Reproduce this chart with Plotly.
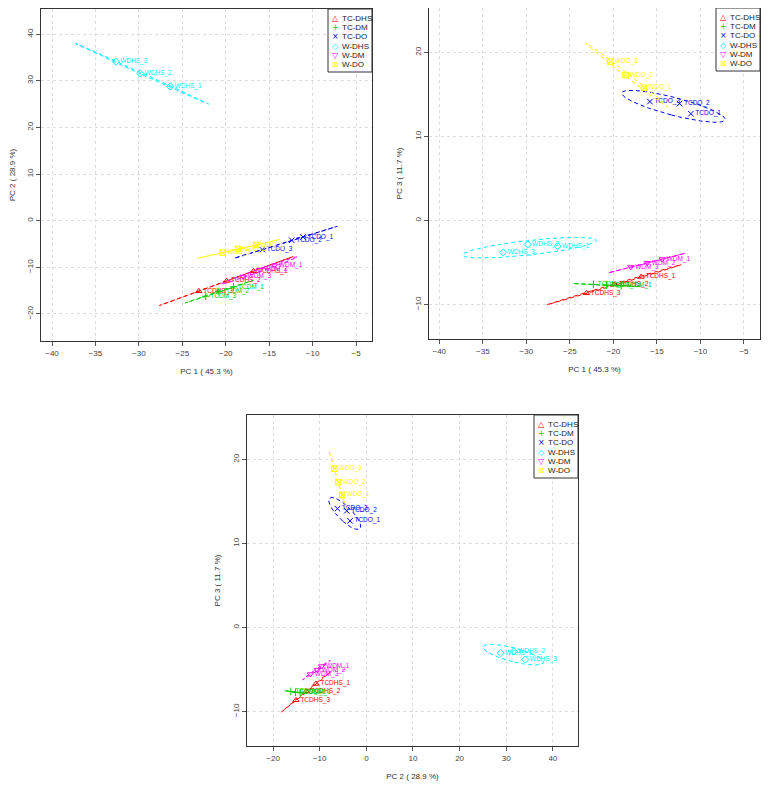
import numpy as np
import plotly.graph_objects as go

# ---------------- data (PCA scores) ----------------
GROUPS = ["TC-DHS", "TC-DM", "TC-DO", "W-DHS", "W-DM", "W-DO"]

TCDHS_LABELS = ["TCDHS_1", "TCDHS_2", "TCDHS_3"]
TCDHS_PC1 = [-16.8, -19.9, -23.1]
TCDHS_PC2 = [-10.8, -12.9, -15.1]
TCDHS_PC3 = [-6.7, -7.6, -8.65]

TCDM_LABELS = ["TCDM_1", "TCDM_2", "TCDM_3"]
TCDM_PC1 = [-19.1, -20.8, -22.3]
TCDM_PC2 = [-14.2, -15.2, -16.2]
TCDM_PC3 = [-7.75, -7.7, -7.6]

TCDO_LABELS = ["TCDO_1", "TCDO_2", "TCDO_3"]
TCDO_PC1 = [-11.1, -12.4, -15.8]
TCDO_PC2 = [-3.5, -4.2, -6.2]
TCDO_PC3 = [12.7, 13.9, 14.15]

WDHS_LABELS = ["WDHS_1", "WDHS_2", "WDHS_3"]
WDHS_PC1 = [-26.4, -29.85, -32.65]
WDHS_PC2 = [28.8, 31.6, 34.1]
WDHS_PC3 = [-3.05, -2.85, -3.8]

WDM_LABELS = ["WDM_1", "WDM_2", "WDM_3"]
WDM_PC1 = [-14.4, -16.1, -18.0]
WDM_PC2 = [-9.6, -10.5, -12.0]
WDM_PC3 = [-4.6, -5.05, -5.55]

WDO_LABELS = ["WDO_1", "WDO_2", "WDO_3"]
WDO_PC1 = [-16.5, -18.6, -20.35]
WDO_PC2 = [-5.2, -6.05, -6.85]
WDO_PC3 = [15.8, 17.3, 18.9]

PC_TITLES = ["PC 1 ( 45.3 %)", "PC 2 ( 28.9 %)", "PC 3 ( 11.7 %)"]

# ---------------- styles ----------------
COLORS = ["#FF0000", "#00CD00", "#0000FF", "#00FFFF", "#FF00FF", "#FFFF00"]
SYMBOLS = ["triangle-up-open", "cross-thin-open", "x-thin-open",
           "diamond-open", "triangle-down-open", "square-x-open"]
LEG_GLYPHS = ["\u25b3", "+", "\u00d7", "\u25c7", "\u25bd", "\u22a0"]
FONT = "Liberation Sans, Arial, Helvetica, sans-serif"

group_data = [
    (TCDHS_LABELS, TCDHS_PC1, TCDHS_PC2, TCDHS_PC3),
    (TCDM_LABELS, TCDM_PC1, TCDM_PC2, TCDM_PC3),
    (TCDO_LABELS, TCDO_PC1, TCDO_PC2, TCDO_PC3),
    (WDHS_LABELS, WDHS_PC1, WDHS_PC2, WDHS_PC3),
    (WDM_LABELS, WDM_PC1, WDM_PC2, WDM_PC3),
    (WDO_LABELS, WDO_PC1, WDO_PC2, WDO_PC3),
]


def ellipse(x, y, n=160, chi2=5.991):
    X = np.column_stack([x, y]).astype(float)
    m = X.mean(axis=0)
    C = np.cov(X.T)
    vals, vecs = np.linalg.eigh(C)
    vals = np.clip(vals, 0, None)
    r = np.sqrt(chi2 * vals)
    t = np.linspace(0, 2 * np.pi, n)
    pts = m[:, None] + vecs @ np.vstack([r[0] * np.cos(t), r[1] * np.sin(t)])
    return pts[0], pts[1]


fig = go.Figure()

# panels: (x pc index, y pc index, axis suffix)
panels = [(1, 2, ""), (1, 3, "2"), (2, 3, "3")]

for (px_i, py_i, suf) in panels:
    for g, (labels, p1, p2, p3) in enumerate(group_data):
        pcs = {1: p1, 2: p2, 3: p3}
        xs, ys = pcs[px_i], pcs[py_i]
        ex, ey = ellipse(xs, ys)
        fig.add_trace(go.Scatter(
            x=ex, y=ey, mode="lines", xaxis="x" + suf, yaxis="y" + suf,
            line=dict(color=COLORS[g], width=1, dash="4px,3px"),
            showlegend=False, hoverinfo="skip"))
        fig.add_trace(go.Scatter(
            x=xs, y=ys, mode="markers+text", xaxis="x" + suf, yaxis="y" + suf,
            text=labels, textposition="middle right",
            textfont=dict(family=FONT, size=6.5, color=COLORS[g]),
            marker=dict(symbol=SYMBOLS[g], size=5.5, color=COLORS[g],
                        line=dict(width=1, color=COLORS[g])),
            name=GROUPS[g], showlegend=False))

# ---------------- layout ----------------
# the page body adds an 8px margin, so the figure is 16px smaller
OFF = 8
W, H = 769 - 2 * OFF, 791 - 2 * OFF
# plot boxes in page pixels: (left, right, top, bottom)
boxes_page = [(41, 372, 9, 341), (429, 760, 8, 339), (247, 578, 415, 746)]
boxes = [(l - OFF, r - OFF, t - OFF, b - OFF) for (l, r, t, b) in boxes_page]
xranges = [[-41.27, -3.16], [-41.18, -3.16], [-25.6, 45.4]]
yranges = [[-25.8, 45.4], [-14.1, 25.28], [-14.1, 25.3]]
xticks = [list(range(-40, 0, 5)), list(range(-40, 0, 5)), list(range(-20, 41, 10))]
yticks = [list(range(-20, 41, 10)), list(range(-10, 21, 10)), list(range(-10, 21, 10))]

axis_common = dict(
    showline=True, mirror=True, linecolor="#333333", linewidth=1,
    showgrid=True, gridcolor="#DDDDDD", griddash="dot", gridwidth=1,
    zeroline=False, ticks="outside", ticklen=4, tickcolor="#555555",
    tickfont=dict(family=FONT, size=8, color="#444444"),
)

layout = dict(
    width=W, height=H, margin=dict(l=0, r=0, t=0, b=0),
    paper_bgcolor="white", plot_bgcolor="white", showlegend=False,
)

annotations = []
shapes = []
for i, (px_i, py_i, suf) in enumerate(panels):
    l, r, t, b = boxes[i]
    xa = dict(axis_common, domain=[l / W, r / W], range=xranges[i],
              tickvals=xticks[i], anchor="y" + suf,
              title=dict(text=PC_TITLES[px_i - 1], standoff=11,
                         font=dict(family=FONT, size=8, color="#333333")))
    ya = dict(axis_common, domain=[1 - b / H, 1 - t / H], range=yranges[i],
              tickvals=yticks[i], anchor="x" + suf, tickangle=-90,
              title=dict(text=PC_TITLES[py_i - 1], standoff=9,
                         font=dict(family=FONT, size=8, color="#333333")))
    layout["xaxis" + suf] = xa
    layout["yaxis" + suf] = ya

    # legend box (top-right corner of each panel)
    xref, yref = "x" + suf + " domain", "y" + suf + " domain"
    pw, ph = r - l, b - t
    shapes.append(dict(type="rect", xref=xref, yref=yref,
                       x0=1 - 44 / pw, x1=1, y0=1 - 63 / ph, y1=1,
                       line=dict(color="#333333", width=1), fillcolor="white",
                       layer="above"))
    for k, grp in enumerate(GROUPS):
        yy = 1 - (9.6 + 9.15 * k) / ph
        annotations.append(dict(xref=xref, yref=yref, x=1 - 37 / pw, y=yy,
                                text=LEG_GLYPHS[k], showarrow=False,
                                xanchor="center", yanchor="middle",
                                font=dict(family="DejaVu Sans", size=8,
                                          color=COLORS[k])))
        annotations.append(dict(xref=xref, yref=yref, x=1 - 32 / pw, y=yy,
                                text=grp, showarrow=False,
                                xanchor="left", yanchor="middle",
                                font=dict(family=FONT, size=8, color="#222222")))

layout["annotations"] = annotations
layout["shapes"] = shapes
fig.update_layout(**layout)

fig.write_html("out.html")
